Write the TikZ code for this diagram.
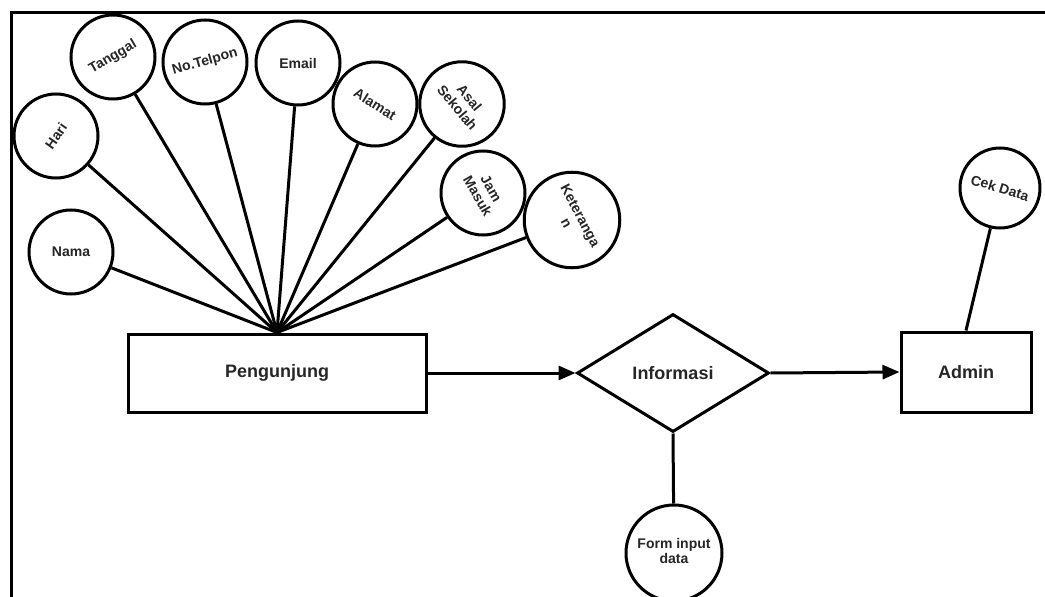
\documentclass[tikz,border=0pt]{standalone}
\usepackage{fontspec}
\setmainfont{Liberation Sans}
\usetikzlibrary{shapes.geometric,arrows.meta}

\tikzset{
  attr/.style={circle, draw, line width=3pt, minimum size=84pt, inner sep=0pt,
    align=center, font=\bfseries\fontsize{14}{15.5}\selectfont, text=black!85},
  entity/.style={rectangle, draw, line width=3pt, inner sep=0pt,
    font=\bfseries\fontsize{18}{20}\selectfont, text=black!85},
  relation/.style={diamond, draw, line width=3pt, inner sep=0pt,
    font=\bfseries\fontsize{18}{20}\selectfont, text=black!85},
  link/.style={line width=3pt},
  flow/.style={line width=3pt, -{Triangle[length=17pt,width=14pt]}},
}
\newcommand{\twolines}[2]{\begin{tabular}{@{}c@{}}#1\\#2\end{tabular}}

\begin{document}
\begin{tikzpicture}[x=1pt,y=-1pt]
  \useasboundingbox (0,0) rectangle (1045,597);
  \fill[white] (0,0) rectangle (1045,597);

  % frame (open on the right and bottom)
  \draw[line width=3pt] (11,597) -- (11,12) -- (1045,12);

  % entities and relation
  \node[entity, minimum width=298pt, minimum height=78pt] (peng) at (277,373) {Pengunjung};
  \node[relation, minimum width=192pt, minimum height=118pt] (info) at (673,373) {Informasi};
  \node[entity, minimum width=130pt, minimum height=80pt] (admin) at (966,372) {Admin};

  % attributes of Pengunjung
  \node[attr] (nama)   at (71,252)  {Nama};
  \node[attr] (hari)   at (56,136)  {\rotatebox{55}{Hari}};
  \node[attr] (tgl)    at (113,57)  {\rotatebox{30}{Tanggal}};
  \node[attr] (telp)   at (205,62)  {\rotatebox{16}{No.Telpon}};
  \node[attr] (email)  at (298,63)  {Email};
  \node[attr] (alamat) at (375,104) {\rotatebox{-32}{Alamat}};
  \node[attr] (asal)   at (462,104) {\rotatebox{-50}{\twolines{Asal}{Sekolah}}};
  \node[attr] (jam)    at (483,193) {\rotatebox{-60}{\twolines{Jam}{Masuk}}};
  \node[attr] (ket)    at (572,220) {\rotatebox{-62}{\twolines{Keteranga}{n}}};

  % attributes of Admin and Informasi
  \node[attr, minimum size=80pt] (cek) at (1000,188) {\rotatebox{-17}{Cek Data}};
  \node[attr, minimum size=96pt] (form) at (674,553) {\twolines{Form input}{data}};

  % attribute links
  \foreach \a in {nama,hari,tgl,telp,email,alamat,asal,jam,ket}
    \draw[link] (\a) -- (peng.north);
  \draw[link] (cek) -- (admin.north);
  \draw[link] (info.south) -- (form);

  % flow
  \draw[flow] (peng.east) -- (info.west);
  \draw[flow] (info.east) -- (admin.west);
\end{tikzpicture}
\end{document}
